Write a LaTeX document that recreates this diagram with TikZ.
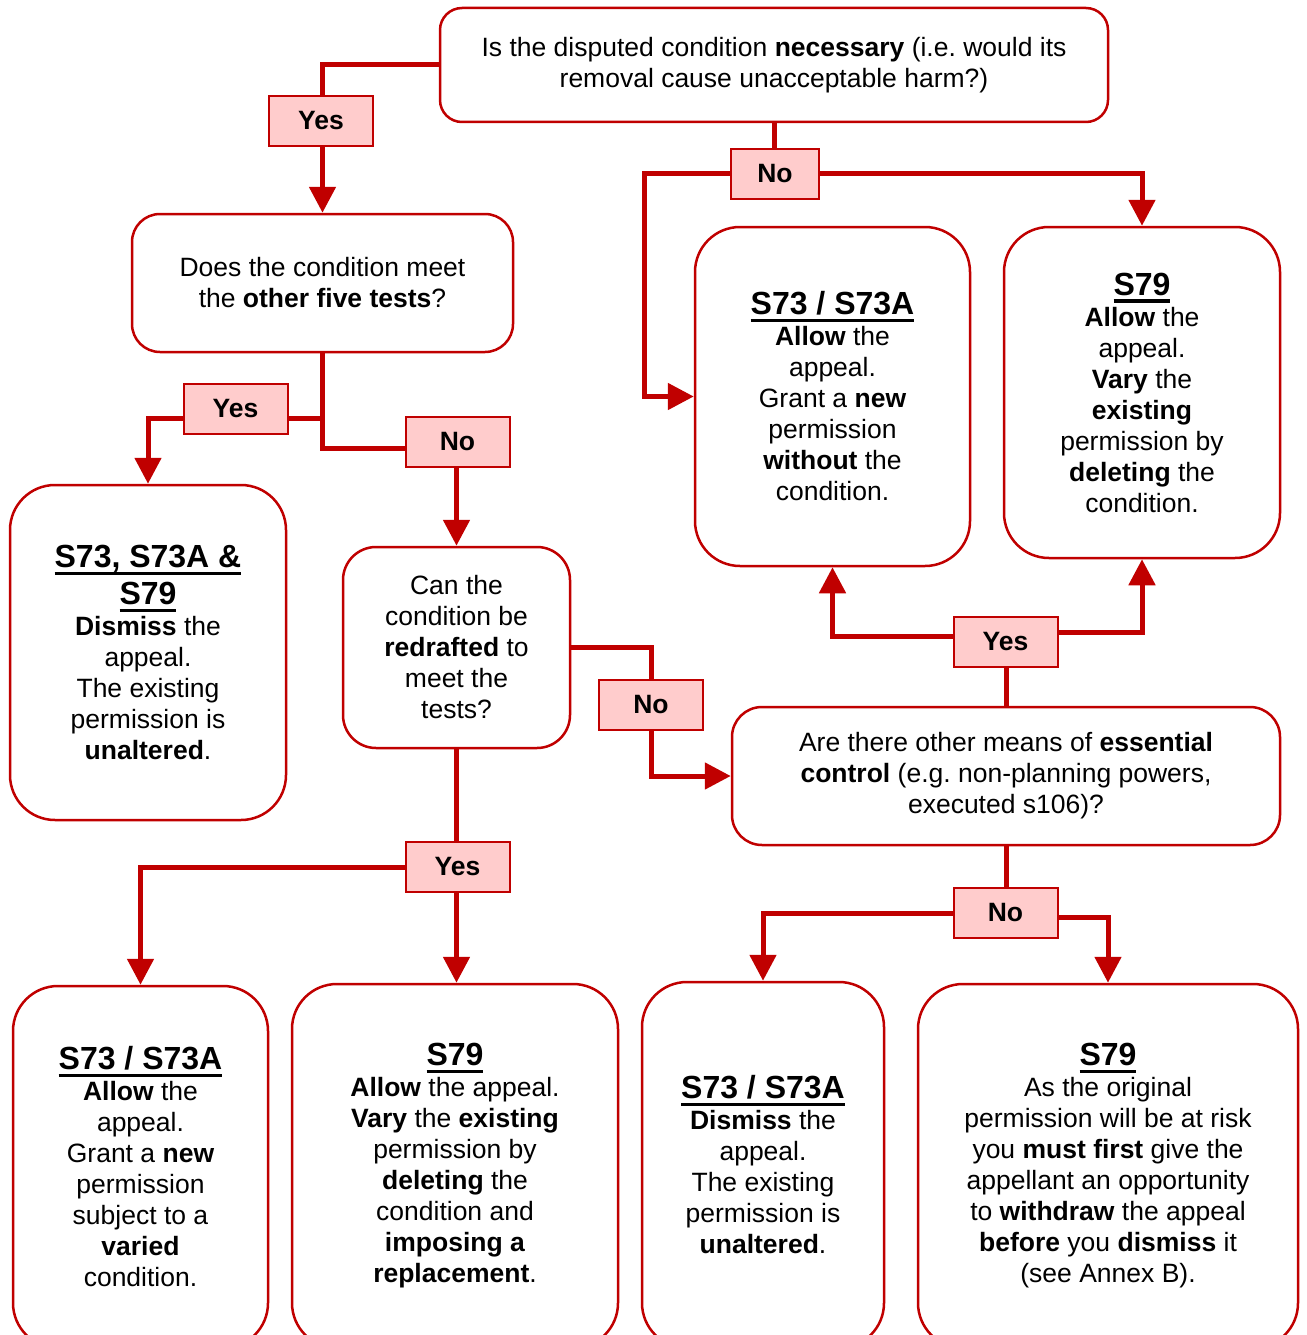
\documentclass[tikz,border=0pt]{standalone}
\usepackage{fontspec}
\setmainfont{Liberation Sans}
\usepackage{tikz}
\usetikzlibrary{positioning, arrows.meta}
\usepackage{xcolor}
\definecolor{linkred}{RGB}{192,0,0}
\definecolor{answerpink}{RGB}{255,204,204}
\newcommand{\ulbox}[1]{\setbox0=\hbox{#1}\rlap{\rule[-7.5pt]{\wd0}{3.5pt}}\box0}
\newcommand{\heading}[1]{{\fontsize{32}{37}\selectfont\bfseries\ulbox{#1}}}
\frenchspacing

\begin{document}
\begin{tikzpicture}[x=1pt, y=-1pt]
  \tikzset{
    question/.style={
      draw=linkred,
      line width=2.5pt,
      rounded corners=22pt,
      fill=white,
      align=center,
      inner sep=0pt,
      font=\fontsize{26.5}{31}\selectfont
    },
    outcome/.style={
      question,
      rounded corners=45pt
    },
    answer/.style={
      draw=linkred,
      line width=2pt,
      fill=answerpink,
      minimum width=104pt,
      minimum height=50pt,
      inner sep=0pt,
      font=\fontsize{26.5}{31}\selectfont\bfseries
    },
    link/.style={
      draw=linkred,
      line width=5pt
    },
    linkarrow/.style={
      link,
      -{Triangle[width=26pt, length=26pt]}
    }
  }
  \clip (0, 0) rectangle (1306, 1335);

  % Questions
    \node[question, minimum width=668pt, minimum height=114pt] at (774, 65) (necessary) {
        Is the disputed condition \textbf{necessary} (i.e. would its\\
        removal cause unacceptable harm?)
    };
    \node[question, minimum width=381pt, minimum height=138pt, rounded corners=28pt] at (322.5, 283) (fivetests) {
        Does the condition meet\\
        the \textbf{other five tests}?
    };
    \node[question, minimum width=227pt, minimum height=201pt, rounded corners=33pt] at (456.5, 647.5) (redraft) {
        Can the\\ condition be\\ \textbf{redrafted} to\\ meet the\\ tests?
    };
    \node[question, minimum width=548pt, minimum height=138pt, rounded corners=30pt] at (1006, 776) (control) {
        Are there other means of \textbf{essential}\\
        \textbf{control} (e.g. non-planning powers,\\
        executed s106)?
    };

  % Outcomes
    \node[outcome, minimum width=275pt, minimum height=339pt] at (832.5, 396.5) (allownew) {
        \heading{S73 / S73A}\\ \textbf{Allow} the\\ appeal.\\ Grant a \textbf{new}\\ permission\\ \textbf{without} the\\ condition.
    };
    \node[outcome, minimum width=276pt, minimum height=331pt] at (1142, 392.5) (allowvary) {
        \heading{S79}\\ \textbf{Allow} the\\ appeal.\\ \textbf{Vary} the\\ \textbf{existing}\\ permission by\\ \textbf{deleting} the\\ condition.
    };
    \node[outcome, minimum width=276pt, minimum height=335pt] at (148, 652.5) (dismissall) {
        \heading{S73, S73A \&}\\[6pt] \heading{S79}\\ \textbf{Dismiss} the\\ appeal.\\ The existing\\ permission is\\ \textbf{unaltered}.
    };
    \node[outcome, minimum width=255pt, minimum height=362pt] at (140.5, 1167) (allowvaried) {
        \heading{S73 / S73A}\\ \textbf{Allow} the\\ appeal.\\ Grant a \textbf{new}\\ permission\\ subject to a\\ \textbf{varied}\\ condition.
    };
    \node[outcome, minimum width=326pt, minimum height=364pt] at (455, 1166) (allowreplace) {
        \heading{S79}\\ \textbf{Allow} the appeal.\\ \textbf{Vary} the \textbf{existing}\\ permission by\\ \textbf{deleting} the\\ condition and\\ \textbf{imposing a}\\ \textbf{replacement}.
    };
    \node[outcome, minimum width=242pt, minimum height=366pt] at (763, 1165) (dismisskeep) {
        \heading{S73 / S73A}\\ \textbf{Dismiss} the\\ appeal.\\ The existing\\ permission is\\ \textbf{unaltered}.
    };
    \node[outcome, minimum width=380pt, minimum height=364pt] at (1108, 1166) (withdraw) {
        \heading{S79}\\ As the original\\ permission will be at risk\\ you \textbf{must first} give the\\ appellant an opportunity\\ to \textbf{withdraw} the appeal\\ \textbf{before} you \textbf{dismiss} it\\ (see Annex B).
    };

  % Answers
    \node[answer] at (321, 121) (necYes) {Yes};
    \node[answer, minimum width=88pt] at (775, 173.5) (necNo) {No};
    \node[answer] at (235.5, 408.5) (fiveYes) {Yes};
    \node[answer] at (457.5, 442) (fiveNo) {No};
    \node[answer] at (651, 704.5) (redraftNo) {No};
    \node[answer] at (457.5, 867) (redraftYes) {Yes};
    \node[answer] at (1005.5, 642) (controlYes) {Yes};
    \node[answer] at (1005.5, 913) (controlNo) {No};

  % Connectors
    \draw[link] (necessary.west) -| (fivetests.north |- necYes.north);
    \draw[linkarrow] (fivetests.north |- necYes.south) -- (fivetests.north);
    \draw[link] (necessary.south) -- (necessary.south |- necNo.north);
    \draw[linkarrow] (necNo.west) -- ++(-86, 0) |- (allownew.west);
    \draw[linkarrow] (necNo.east) -| (allowvary.north);

    \draw[link] (fivetests.south) |- ([yshift=-6pt]fiveNo.west);
    \draw[link] ([yshift=-10pt]fiveYes.east) -- ([yshift=-10pt]fiveYes.east -| fivetests.south);
    \draw[linkarrow] ([yshift=-10pt]fiveYes.west) -| (dismissall.north);
    \draw[linkarrow] (redraft.north |- fiveNo.south) -- (redraft.north);

    \draw[link] (redraft.east) -| (redraftNo.north);
    \draw[linkarrow] (redraftNo.south) |- (control.west);
    \draw[link] (redraft.south) -- (redraft.south |- redraftYes.north);
    \draw[linkarrow] (redraftYes.west) -| (allowvaried.north);
    \draw[linkarrow] (redraft.south |- redraftYes.south) -- (redraft.south |- allowreplace.north);

    \draw[link] (control.north) -- (control.north |- controlYes.south);
    \draw[linkarrow] ([yshift=6pt]controlYes.west) -| (allownew.south);
    \draw[linkarrow] ([yshift=10pt]controlYes.east) -| (allowvary.south);
    \draw[link] (control.south) -- (control.south |- controlNo.north);
    \draw[linkarrow] (controlNo.west) -| (dismisskeep.north);
    \draw[linkarrow] ([yshift=-4pt]controlNo.east) -| (withdraw.north);

\end{tikzpicture}
\end{document}
